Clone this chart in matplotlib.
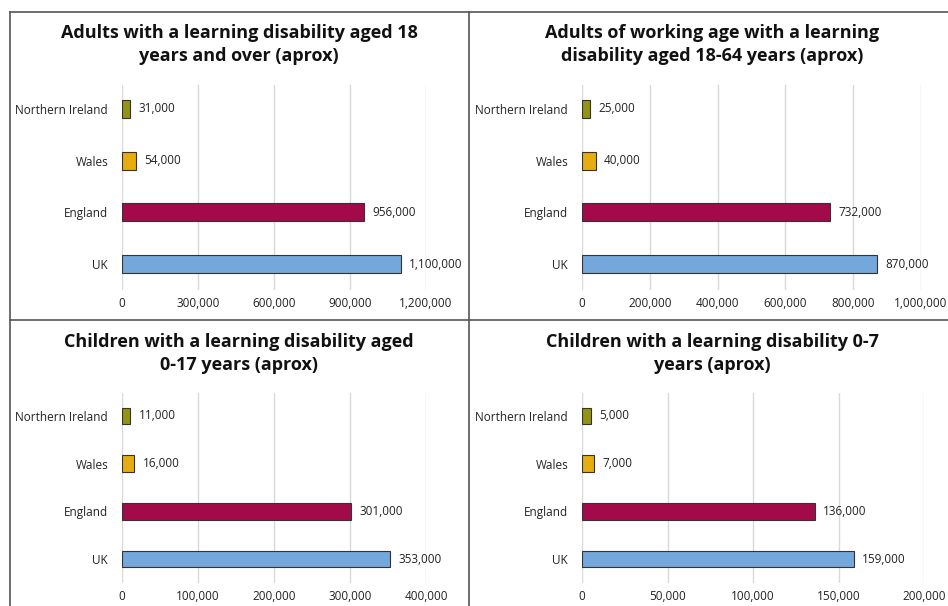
import matplotlib.pyplot as plt
from matplotlib.lines import Line2D

plt.rcParams['font.family'] = ['Open Sans', 'DejaVu Sans']

paises = ["UK", "England", "Wales", "Northern Ireland"]
colores = ["#74a7db", "#a30a4a", "#e6ad12", "#949414"]

titulos = [
    "Adults with a learning disability aged 18\nyears and over (aprox)",
    "Adults of working age with a learning\ndisability aged 18-64 years (aprox)",
    "Children with a learning disability aged\n0-17 years (aprox)",
    "Children with a learning disability 0-7\nyears (aprox)",
]

adultos = [1100000, 956000, 54000, 31000]
adultos_trabajo = [870000, 732000, 40000, 25000]
ninos = [353000, 301000, 16000, 11000]
ninos_0_7 = [159000, 136000, 7000, 5000]

ticks_adultos = [0, 300000, 600000, 900000, 1200000]
ticks_trabajo = [0, 200000, 400000, 600000, 800000, 1000000]
ticks_ninos = [0, 100000, 200000, 300000, 400000]
ticks_0_7 = [0, 50000, 100000, 150000, 200000]

W, H = 948, 606
fig = plt.figure(figsize=(W / 100, H / 100), dpi=100)


def caja(x0, x1, y0, y1):
    # pixel box (top-left origin) -> figure fraction rect
    return [x0 / W, 1 - y1 / H, (x1 - x0) / W, (y1 - y0) / H]


paneles = [
    (adultos, ticks_adultos, caja(122, 426, 85, 290), (-0.5, 3.46), 239, (33, 56)),
    (adultos_trabajo, ticks_trabajo, caja(582, 921, 85, 290), (-0.5, 3.46), 712, (33, 56)),
    (ninos, ticks_ninos, caja(122, 426, 393, 583), (-0.5, 3.48), 239, (342, 365)),
    (ninos_0_7, ticks_0_7, caja(582, 924, 393, 583), (-0.5, 3.48), 712, (342, 365)),
]

for (valores, ticks, rect, ylim, xc, ytit), titulo in zip(paneles, titulos):
    ax = fig.add_axes(rect)
    barras = ax.barh(range(len(paises)), valores, height=0.35, color=colores,
                     edgecolor="#333333", linewidth=0.8, zorder=3)
    etiquetas = ax.bar_label(barras, labels=[f"{v:,}" for v in valores], padding=6,
                             fontsize=8.5, color="#222222")
    for t in etiquetas:
        t.set_va("center")
    ax.set_xlim(ticks[0], ticks[-1])
    ax.set_ylim(*ylim)
    ax.set_xticks(ticks)
    ax.set_xticklabels([f"{t:,}" for t in ticks])
    ax.set_yticks(range(len(paises)))
    ax.set_yticklabels(paises)
    ax.tick_params(length=0, labelsize=8.5, labelcolor="#222222")
    ax.tick_params(axis="y", pad=10)
    ax.tick_params(axis="x", pad=5)
    ax.grid(axis="x", color="#d9d9d9", linewidth=1, zorder=0)
    for s in ax.spines.values():
        s.set_visible(False)
    for i, linea in enumerate(titulo.split("\n")):
        fig.text(xc / W, 1 - ytit[i] / H, linea, ha="center", va="center",
                 fontsize=13, fontweight="bold", color="#111111")

# marco que separa los cuatro graficos
marco = [((10, 948), (12, 12)), ((10, 10), (12, 606)),
         ((469, 469), (12, 606)), ((10, 948), (320, 320))]
for xs, ys in marco:
    fig.add_artist(Line2D([x / W for x in xs], [1 - y / H for y in ys],
                          color="#555555", linewidth=1.2))

plt.savefig("out.png", dpi=100)
